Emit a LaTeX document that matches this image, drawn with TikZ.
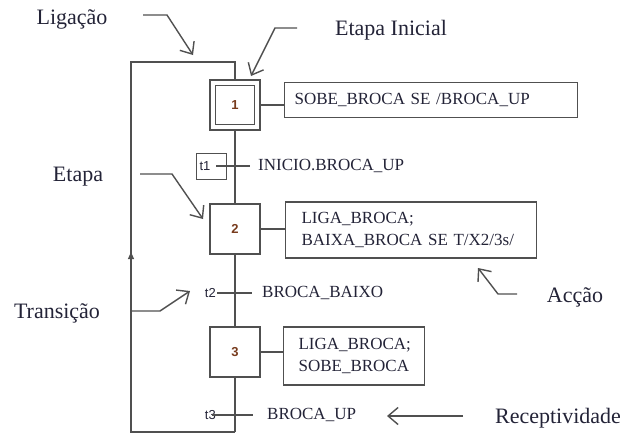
\documentclass[tikz,border=0pt]{standalone}
\usepackage{fontspec}
\setmainfont{Liberation Serif}
\newfontfamily\numfont{Liberation Sans}
\usetikzlibrary{calc,arrows.meta}
\definecolor{gline}{RGB}{80,80,80}
\definecolor{gtext}{RGB}{35,35,55}
\definecolor{numtext}{RGB}{120,60,30}

\begin{document}
\begin{tikzpicture}[x=1pt,y=-1pt]

\tikzset{
  step box/.style={
    draw=gline, line width=1.1pt, fill=white,
    minimum width=50, minimum height=50, inner sep=0pt,
    text=numtext, font=\numfont\bfseries\fontsize{13}{15}\selectfont
  },
  action box/.style={
    draw=gline, line width=1.1pt, anchor=west, align=left,
    inner ysep=0pt, text=gtext, font=\fontsize{17}{22}\selectfont
  },
  recep/.style={anchor=west, inner xsep=8pt, text=gtext,
    font=\fontsize{17}{20}\selectfont},
  trans label/.style={inner sep=1pt, text=gtext,
    font=\numfont\fontsize{13}{15}\selectfont},
  annot/.style={text=gtext, font=\fontsize{22}{26}\selectfont},
  flow/.style={draw=gline, line width=1.1pt},
  pointer/.style={
    draw=gline, line width=1.4pt, line join=miter,
    -{Straight Barb[length=10pt,width=17pt]}
  }
}

\useasboundingbox (0,0) rectangle (626,434);

% Loop corners and pointer end points.
\coordinate (top) at (235,62);
\coordinate (bot) at (235,432);
\coordinate (topleft) at (131,62);
\coordinate (botleft) at (131,432);
\coordinate (loopup) at (131,252);

% Loop line behind the steps.
\draw[flow] (bot) -- (botleft) -- (topleft) -- (top) -- (bot);
\draw[flow, -{Triangle[length=7pt,width=6pt]}] (botleft) -- (loopup);

% Steps.
\node[step box] (s1) at (235,105) {1};
\draw[flow] ($(s1.south west)+(6,-6)$) rectangle ($(s1.north east)+(-6,6)$);
\node[step box] (s2) at (235,229) {2};
\node[step box] (s3) at (235,352) {3};

% Actions.
\node[action box, text width=273, inner xsep=10, minimum height=35]
  (a1) at (284,100) {SOBE\_BROCA SE /BROCA\_UP};
\node[action box, text width=219, inner xsep=16, minimum height=56]
  (a2) at (285,230) {LIGA\_BROCA;\\BAIXA\_BROCA SE T/X2/3s/};
\node[action box, text width=111, inner xsep=15, minimum height=58]
  (a3) at (283,356) {LIGA\_BROCA;\\SOBE\_BROCA};

\draw[flow] (s1.east) -- (s1.east -| a1.west);
\draw[flow] (s2.east) -- (s2.east -| a2.west);
\draw[flow] (s3.east) -- (s3.east -| a3.west);

% Transitions and receptivities.
\node[trans label, draw=gline, line width=1pt, text width=24, align=left,
  inner xsep=3pt, minimum height=26] (t1) at (211.5,166) {t1};
\node[recep] (r1) at (250,166) {INICIO.BROCA\_UP};
\draw[flow] ([xshift=-11pt]t1.east) -- (r1.west);

\node[trans label, anchor=east] (t2) at (217,293) {t2};
\node[recep, inner xsep=10pt] (r2) at (252,293) {BROCA\_BAIXO};
\draw[flow] (t2.east) -- (r2.west);

\node[trans label, anchor=east] (t3) at (217,415) {t3};
\node[recep, inner xsep=14pt] (r3) at (253,415) {BROCA\_UP};
\draw[flow] ([xshift=-5pt]t3.east) -- (r3.west);

% Annotations.
\node[annot] (lig) at (72,19) {Ligação};
\node[annot] (ini) at (391,30) {Etapa Inicial};
\node[annot] (etp) at (78,177) {Etapa};
\node[annot] (trn) at (57,313) {Transição};
\node[annot] (acc) at (575,297) {Acção};
\node[annot] (rec) at (558,418) {Receptividade};

\coordinate (ligtip) at (193,55);
\coordinate (initip) at (251,76);
\coordinate (etptip) at (203,219);
\coordinate (trntip) at (190,291);
\coordinate (acctip) at (478,268);
\coordinate (rectip) at (387,416);

\draw[pointer] (143,15) -- (167,15) -- (ligtip);
\draw[pointer] (297,28) -- (275,28) -- (initip);
\draw[pointer] (140,174) -- (172,174) -- (etptip);
\draw[pointer] (131,311) -- (160,311) -- (trntip);
\draw[pointer] (517,294) -- (498,294) -- (acctip);
\draw[pointer] (463,416) -- (rectip);

\end{tikzpicture}
\end{document}
